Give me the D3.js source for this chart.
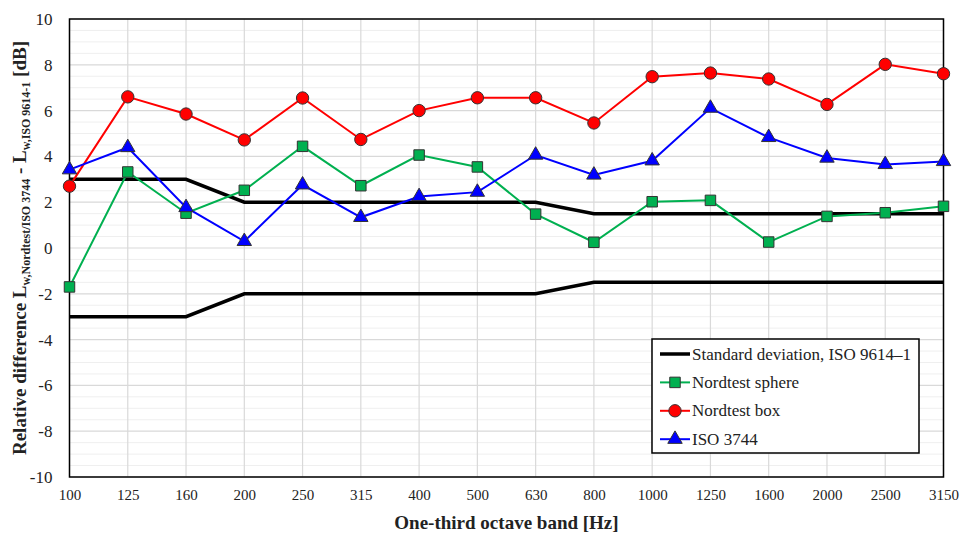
<!DOCTYPE html>
<html>
<head>
<meta charset="utf-8">
<script src="https://cdn.jsdelivr.net/npm/d3@7"></script>
<style>
  body { margin: 0; background: #fff; }
</style>
</head>
<body>
<svg id="chart" width="962" height="535"></svg>
<script>
  "use strict";

  var bands = ["100", "125", "160", "200", "250", "315", "400", "500", "630", "800",
    "1000", "1250", "1600", "2000", "2500", "3150"];
  var stdUpper = [3, 3, 3, 2, 2, 2, 2, 2, 2, 1.5, 1.5, 1.5, 1.5, 1.5, 1.5, 1.5];
  var stdLower = [-3, -3, -3, -2, -2, -2, -2, -2, -2, -1.5, -1.5, -1.5, -1.5, -1.5, -1.5, -1.5];
  var sphere = [-1.7, 3.32, 1.52, 2.52, 4.44, 2.72, 4.06, 3.54, 1.48, 0.25, 2.02, 2.08, 0.26, 1.38, 1.54, 1.82];
  var box = [2.7, 6.6, 5.85, 4.72, 6.55, 4.74, 6.0, 6.56, 6.56, 5.46, 7.48, 7.64, 7.38, 6.27, 8.02, 7.61];
  var iso3744 = [3.42, 4.39, 1.77, 0.29, 2.76, 1.34, 2.25, 2.44, 4.06, 3.19, 3.81, 6.11, 4.83, 3.93, 3.65, 3.78];
  var yTicks = [-10, -8, -6, -4, -2, 0, 2, 4, 6, 8, 10];

  var fontFam = "'Liberation Serif', monospace";
  var plotLeft = 69.5, plotRight = 943.5, plotTop = 19, plotBottom = 477;
  var svg = d3.select("#chart");

  var x = d3.scalePoint().domain(bands).range([plotLeft, plotRight]);
  var y = d3.scaleLinear().domain([-10, 10]).range([plotBottom, plotTop]);

  // minor grid every 0.5
  var minor = d3.range(-10, 10.01, 0.5).filter(function (v) { return v % 2 !== 0; });
  svg.append("g").selectAll("line").data(minor).enter().append("line")
    .attr("x1", plotLeft).attr("x2", plotRight)
    .attr("y1", function (d) { return y(d); }).attr("y2", function (d) { return y(d); })
    .attr("stroke", "#efefef").attr("stroke-width", 1);

  // major grid
  svg.append("g").selectAll("line").data(yTicks).enter().append("line")
    .attr("x1", plotLeft).attr("x2", plotRight)
    .attr("y1", function (d) { return y(d); }).attr("y2", function (d) { return y(d); })
    .attr("stroke", "#d9d9d9").attr("stroke-width", 1.2);

  svg.append("g").selectAll("line").data(bands).enter().append("line")
    .attr("x1", function (d) { return x(d); }).attr("x2", function (d) { return x(d); })
    .attr("y1", plotTop).attr("y2", plotBottom)
    .attr("stroke", "#d9d9d9").attr("stroke-width", 1.2);

  // axes (labels only)
  var yAxis = svg.append("g").attr("transform", "translate(" + plotLeft + ",0)")
    .call(d3.axisLeft(y).tickValues(yTicks).tickSize(0).tickPadding(17)
      .tickFormat(function (d) { return String(d); }));
  yAxis.select(".domain").remove();
  yAxis.selectAll("text").style("font-size", "17px").style("font-family", fontFam).attr("fill", "#222");

  var xAxis = svg.append("g").attr("transform", "translate(0," + plotBottom + ")")
    .call(d3.axisBottom(x).tickSize(0).tickPadding(12));
  xAxis.select(".domain").remove();
  xAxis.selectAll("text").style("font-size", "15px").style("font-family", fontFam).attr("fill", "#222");

  // frame
  svg.append("rect")
    .attr("x", plotLeft).attr("y", plotTop)
    .attr("width", plotRight - plotLeft).attr("height", plotBottom - plotTop)
    .attr("fill", "none").attr("stroke", "#000").attr("stroke-width", 1.5);

  var line = d3.line()
    .x(function (d, i) { return x(bands[i]); })
    .y(function (d) { return y(d); });

  [stdUpper, stdLower].forEach(function (s) {
    svg.append("path").attr("d", line(s))
      .attr("fill", "none").attr("stroke", "#000").attr("stroke-width", 3.5);
  });

  var series = [
    { name: "Nordtest sphere", values: sphere, color: "#00b050", shape: d3.symbolSquare, size: 110 },
    { name: "Nordtest box", values: box, color: "#ff0000", shape: d3.symbolCircle, size: 120 },
    { name: "ISO 3744", values: iso3744, color: "#0000ff", shape: d3.symbolTriangle, size: 90 }
  ];

  series.forEach(function (s) {
    svg.append("path").attr("d", line(s.values))
      .attr("fill", "none").attr("stroke", s.color).attr("stroke-width", 2);
    svg.append("g").selectAll("path").data(s.values).enter().append("path")
      .attr("d", d3.symbol().type(s.shape).size(s.size))
      .attr("transform", function (d, i) { return "translate(" + x(bands[i]) + "," + y(d) + ")"; })
      .attr("fill", s.color).attr("stroke", "#333").attr("stroke-width", 1);
  });

  // titles
  svg.append("text")
    .attr("x", (plotLeft + plotRight) / 2).attr("y", 529)
    .attr("text-anchor", "middle").attr("fill", "#222")
    .style("font-family", fontFam)
    .style("font-size", "19px").style("font-weight", "bold")
    .text("One-third octave band [Hz]");

  var yt = svg.append("text")
    .attr("transform", "translate(26," + ((plotTop + plotBottom) / 2) + ") rotate(-90)")
    .attr("text-anchor", "middle").attr("fill", "#222")
    .style("font-family", fontFam)
    .style("font-size", "19px").style("font-weight", "bold");
  yt.append("tspan").text("Relative difference L");
  yt.append("tspan").attr("dy", 4).style("font-size", "12px").text("w,Nordtest/ISO 3744");
  yt.append("tspan").attr("dy", -4).text(" - L");
  yt.append("tspan").attr("dy", 4).style("font-size", "12px").text("w,ISO 9614-1");
  yt.append("tspan").attr("dy", -4).text(" [dB]");

  // legend
  var lg = svg.append("g");
  lg.append("rect").attr("x", 652).attr("y", 339).attr("width", 267).attr("height", 114)
    .attr("fill", "#fff").attr("stroke", "#000").attr("stroke-width", 1.5);

  var legendItems = [{ name: "Standard deviation, ISO 9614\u20131", color: "#000", width: 3.5, shape: null }]
    .concat(series.map(function (s) { return { name: s.name, color: s.color, width: 2, shape: s.shape, size: s.size }; }));

  legendItems.forEach(function (d, i) {
    var ly = 354 + i * 28.4;
    lg.append("line").attr("x1", 660).attr("x2", 690).attr("y1", ly).attr("y2", ly)
      .attr("stroke", d.color).attr("stroke-width", d.width);
    if (d.shape) {
      lg.append("path").attr("d", d3.symbol().type(d.shape).size(d.size))
        .attr("transform", "translate(675," + ly + ")")
        .attr("fill", d.color).attr("stroke", "#333").attr("stroke-width", 1);
    }
    lg.append("text").attr("x", 692).attr("y", ly + 5.5).attr("fill", "#222")
      .style("font-family", fontFam)
      .style("font-size", "17px").text(d.name);
  });
</script>
</body>
</html>
